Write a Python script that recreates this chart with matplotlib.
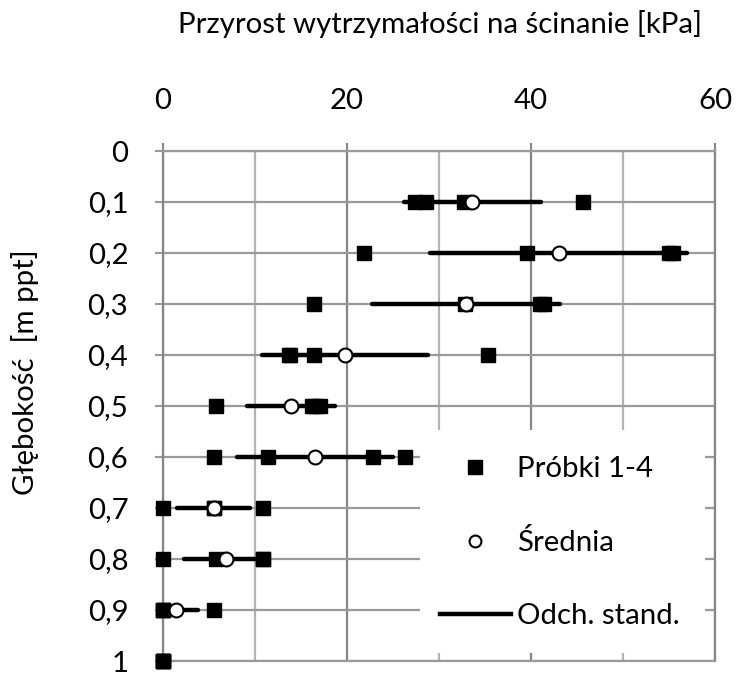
import numpy as np
import matplotlib
matplotlib.use("Agg")
import matplotlib.pyplot as plt
from matplotlib.lines import Line2D
from matplotlib.patches import Rectangle

plt.rcParams['font.family'] = ['Lato', 'DejaVu Sans']

# ---- data ----
depth = [0.1, 0.2, 0.3, 0.4, 0.5, 0.6, 0.7, 0.8, 0.9, 1.0]
sample1 = [27.4, 21.8, 16.4, 13.7, 5.8, 5.5, 0.0, 0.0, 0.0, 0.0]
sample2 = [28.6, 39.6, 32.8, 13.8, 16.2, 11.4, 5.5, 5.8, 0.0, 0.0]
sample3 = [32.7, 55.0, 41.0, 16.4, 16.5, 22.8, 5.5, 10.9, 0.0, 0.0]
sample4 = [45.7, 55.4, 41.4, 35.3, 17.1, 26.3, 10.9, 10.9, 5.5, 0.0]
mean = [33.6, 43.0, 32.9, 19.8, 13.9, 16.5, 5.5, 6.9, 1.4, np.nan]
std = [7.45, 14.0, 10.2, 9.0, 4.8, 8.5, 4.0, 4.6, 2.4, np.nan]

ytick_vals = [0, 0.1, 0.2, 0.3, 0.4, 0.5, 0.6, 0.7, 0.8, 0.9, 1.0]
ytick_labels = ["0", "0,1", "0,2", "0,3", "0,4", "0,5", "0,6", "0,7", "0,8", "0,9", "1"]
xtick_major = [0, 20, 40, 60]
xtick_minor = [10, 30, 50]

title = "Przyrost wytrzymałości na ścinanie [kPa]"
ylabel = "Głębokość  [m ppt]"
legend_labels = ["Próbki 1-4", "Średnia", "Odch. stand."]

W, H = 746, 676
fig = plt.figure(figsize=(W / 100, H / 100), dpi=100)
ax = fig.add_axes([163 / W, (H - 661) / H, 552 / W, 510 / H])

FS = 21.2
grid_major = '#868686'
grid_minor = '#b3b3b3'
grid_h = '#9a9a9a'

# error bars (std) as thick horizontal lines
for d, m, s in zip(depth, mean, std):
    if np.isfinite(s) and s > 0:
        ax.plot([m - s, m + s], [d, d], color='black', lw=3.2,
                solid_capstyle='round', zorder=3, clip_on=True)

samples = [sample1, sample2, sample3, sample4]
for smp in samples:
    ax.plot(smp, depth, linestyle='none', marker='s', markersize=10.5,
            color='black', markeredgecolor='black', zorder=4, clip_on=False)

ax.plot(mean, depth, linestyle='none', marker='o', markersize=10,
        markerfacecolor='white', markeredgecolor='black', markeredgewidth=1.5,
        zorder=5, clip_on=False)

ax.set_xlim(0, 60)
ax.set_ylim(1.0, 0.0)

ax.xaxis.tick_top()
ax.set_xticks(xtick_major)
ax.set_xticklabels([str(v) for v in xtick_major])
ax.set_xticks(xtick_minor, minor=True)
ax.set_yticks(ytick_vals)
ax.set_yticklabels(ytick_labels)

ax.tick_params(axis='x', which='major', length=6, width=1.5, color=grid_major,
               labelsize=FS, pad=21, top=True, bottom=False)
ax.tick_params(axis='x', which='minor', length=0, top=False, bottom=False)
ax.tick_params(axis='y', which='major', length=6, width=1.5, color=grid_h,
               labelsize=FS, pad=19)

ax.set_axisbelow(True)
ax.grid(True, axis='x', which='major', color=grid_major, lw=1.6)
ax.grid(True, axis='x', which='minor', color=grid_minor, lw=1.6)
ax.grid(True, axis='y', which='major', color=grid_h, lw=1.6)

for side in ['left', 'right']:
    ax.spines[side].set_color(grid_major)
    ax.spines[side].set_linewidth(1.6)
for side in ['top', 'bottom']:
    ax.spines[side].set_color(grid_h)
    ax.spines[side].set_linewidth(1.6)

# white legend area
ax.add_patch(Rectangle((0.466, 0.016), 0.516, 0.437, transform=ax.transAxes,
                       facecolor='white', edgecolor='none', zorder=1))

handles = [
    Line2D([], [], linestyle='none', marker='s', markersize=10.5, color='black'),
    Line2D([], [], linestyle='none', marker='o', markersize=8.5,
           markerfacecolor='white', markeredgecolor='black', markeredgewidth=1.5),
    Line2D([], [], color='black', lw=3.2),
]
leg = ax.legend(handles, legend_labels, loc='upper left',
                bbox_to_anchor=(0.502, 0.402), frameon=False, fontsize=FS,
                handlelength=2.4, handletextpad=0.2, labelspacing=1.6,
                borderaxespad=0, borderpad=0)
leg.set_zorder(6)

fig.text(440 / W, 1 - 33 / H, title, ha='center', va='baseline', fontsize=FS)
fig.text(25 / W, 1 - 372 / H, ylabel, ha='center', va='center',
         rotation=90, fontsize=FS)

fig.savefig('out.png', dpi=100)
